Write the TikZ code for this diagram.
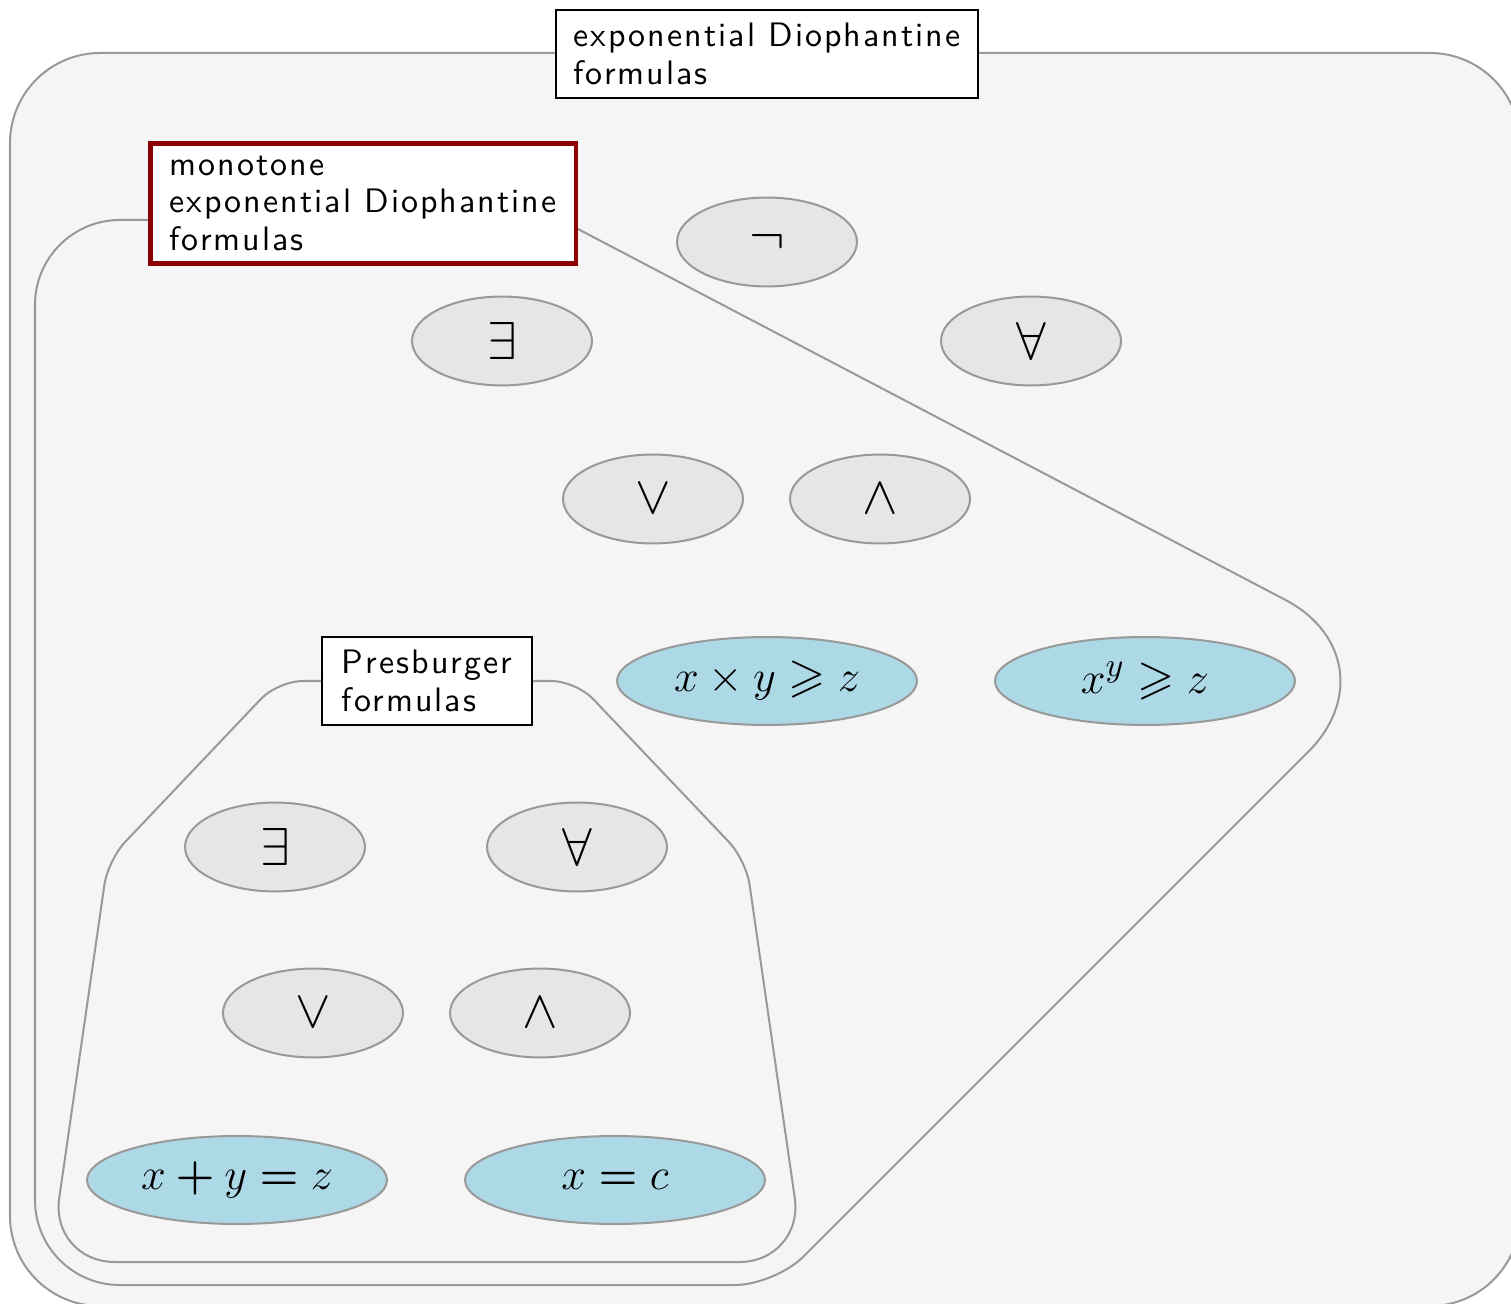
\documentclass[tikz,border=0pt]{standalone}
\usepackage{amsmath}
\usepackage{amssymb}
\usepackage{fontspec}
\usetikzlibrary{shapes.geometric}
\newfontfamily\labelfont{lmsans10-regular.otf}[LetterSpace=6]
\definecolor{regionfill}{HTML}{F5F5F5}
\definecolor{linegray}{HTML}{999999}
\definecolor{opfill}{HTML}{E6E6E6}
\definecolor{lightblue}{HTML}{ADD8E6}
\definecolor{darkred}{HTML}{8B0000}

\begin{document}
\begin{tikzpicture}[x=0.324pt,y=-0.324pt,
  region/.style={draw=linegray,line width=0.65pt},
  op/.style={ellipse,draw=linegray,line width=0.65pt,fill=opfill,inner sep=0pt,
    minimum width=58.3pt,minimum height=28.8pt,font=\fontsize{16}{19}\selectfont},
  atom/.style={op,fill=lightblue,minimum width=97.2pt,minimum height=28.5pt,
    font=\fontsize{15.5}{19}\selectfont},
  tag/.style={draw=black,line width=0.5pt,fill=white,align=left,inner sep=0pt,
    minimum height=28.5pt,font=\labelfont\fontsize{11}{12.3}\selectfont}]
\useasboundingbox (0,0) rectangle (1511,1304);
% regions
\draw[region,fill=regionfill,rounded corners=29.2pt] (10,53) rectangle (1520,1306);
\draw[region] (150,220) [rounded corners=27.5pt] -- (35,220) -- (35,1285)
  [rounded corners=13pt] -- (775,1285) [rounded corners=42pt] -- (1400,660)
  [sharp corners] -- (576,228);
\draw[region] (322,681) [rounded corners=8pt] -- (278,681) -- (108,860)
  [rounded corners=21pt] -- (50,1262) -- (804,1262) [rounded corners=8pt] -- (746,860)
  -- (576,681) [sharp corners] -- (532,681);
% labels
\node[tag,minimum width=136.7pt] (expdio) at (767,54) {exponential Diophantine\\formulas};
\node[tag,draw=darkred,line width=1.6pt,minimum width=138pt,minimum height=38.6pt] (monodio) at (363,203.5) {monotone\\exponential Diophantine\\formulas};
\node[tag,minimum width=68pt] (presb) at (427,681) {Presburger\\formulas};
% monotone operations
\node[op] (mneg) at (767,242) {$\neg$};
\node[op] (mex) at (502,341) {$\exists$};
\node[op] (mall) at (1031,341) {$\forall$};
\node[op] (mor) at (653,499) {$\vee$};
\node[op] (mand) at (880,499) {$\wedge$};
\node[atom] (mmul) at (767,681) {$x\times y\geqslant z$};
\node[atom] (mpow) at (1145,681) {$x^y\geqslant z$};
% presburger operations
\node[op] (pex) at (275,847) {$\exists$};
\node[op] (pall) at (577,847) {$\forall$};
\node[op] (por) at (313,1013) {$\vee$};
\node[op] (pand) at (540,1013) {$\wedge$};
\node[atom] (padd) at (237,1180) {$x\mathbin{\boldsymbol{+}}y\mathrel{\boldsymbol{=}}z$};
\node[atom] (pconst) at (615,1180) {$x\mathrel{\boldsymbol{=}}c$};
\end{tikzpicture}
\end{document}
